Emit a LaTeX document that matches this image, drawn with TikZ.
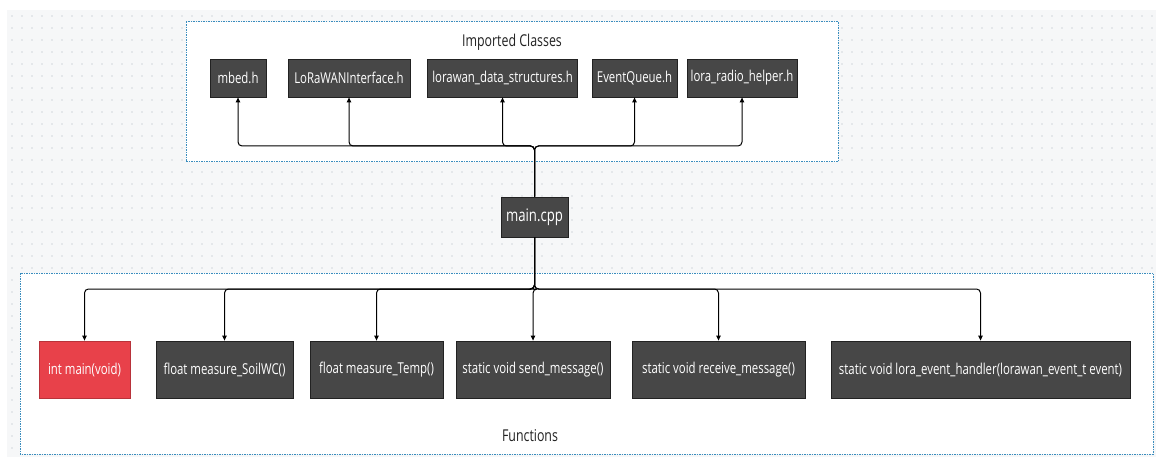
\documentclass[tikz,border=0pt]{standalone}
\usepackage{fontspec}
\setmainfont[FakeStretch=0.76]{Open Sans}
\usetikzlibrary{arrows.meta}
\definecolor{boxgray}{HTML}{474747}
\definecolor{boxline}{HTML}{222222}
\definecolor{redfill}{HTML}{E8414A}
\definecolor{redline}{HTML}{B8323A}
\definecolor{bggray}{HTML}{F6F7F8}
\definecolor{dotc}{HTML}{D2D8DD}
\definecolor{groupline}{HTML}{3A8DBE}
\tikzset{
  darkbox/.style={draw=boxline, fill=boxgray, text=white, line width=0.8pt,
    minimum height=#1, inner sep=0pt, font=\fontsize{15}{17}\selectfont},
  darkbox/.default=38pt,
  redbox/.style={darkbox=57pt, fill=redfill, draw=redline},
  groupbox/.style={draw=groupline, fill=white, line width=1pt, dash pattern=on 1.5pt off 1pt},
  grouplabel/.style={text=boxline, font=\fontsize{16.3}{18}\selectfont},
  conn/.style={draw=black, line width=1pt, rounded corners=4pt,
    -{Triangle[length=5pt,width=4.5pt]}}
}
\begin{document}
\begin{tikzpicture}[x=1pt,y=-1pt]
\useasboundingbox (0,0) rectangle (1156,457);
\fill[white] (0,0) rectangle (1156,457);
\fill[bggray] (7,10) rectangle (1156,457);
\foreach \x in {12,22,...,1152} {\foreach \y in {16,28,...,452} {\fill[dotc] (\x,\y) circle (0.8pt);}}
% groups
\draw[groupbox] (186,22) rectangle (838,162);
\draw[groupbox] (20,273) rectangle (1153,454);
\node[grouplabel] (lblimp) at (512,42) {Imported Classes};
\node[grouplabel] (lblfun) at (530,436) {Functions};
% header nodes
\node[darkbox, minimum width=56pt] (mbed) at (238,78) {mbed.h};
\node[darkbox, minimum width=122pt] (lwi) at (349,78) {LoRaWANInterface.h};
\node[darkbox, minimum width=150pt] (lds) at (502.5,78) {lorawan\_data\_structures.h};
\node[darkbox, minimum width=85pt] (evq) at (634.5,78) {EventQueue.h};
\node[darkbox, minimum width=110pt] (lrh) at (742,78) {lora\_radio\_helper.h};
% main
\node[darkbox=40pt, minimum width=67pt, font=\fontsize{17.3}{19}\selectfont] (main) at (534.5,217) {main.cpp};
% functions
\node[redbox, minimum width=91pt] (f1) at (84.5,369.5) {int main(void)};
\node[darkbox=57pt, minimum width=137pt] (f2) at (224.5,369.5) {float measure\_SoilWC()};
\node[darkbox=57pt, minimum width=133pt] (f3) at (376.5,369.5) {float measure\_Temp()};
\node[darkbox=57pt, minimum width=154pt] (f4) at (533,369.5) {static void send\_message()};
\node[darkbox=57pt, minimum width=173pt] (f5) at (718.5,369.5) {static void receive\_message()};
\node[darkbox=57pt, minimum width=299pt] (f6) at (980.5,369.5) {static void lora\_event\_handler(lorawan\_event\_t event)};
% junctions
\coordinate (tb) at (534.5,146);
\coordinate (bb) at (534.5,289);
% connectors up
\draw[conn] (main.north) -- (tb) -| (mbed.south);
\draw[conn] (main.north) -- (tb) -| (lwi.south);
\draw[conn] (main.north) -- (tb) -| (lds.south);
\draw[conn] (main.north) -- (tb) -| (evq.south);
\draw[conn] (main.north) -- (tb) -| (lrh.south);
% connectors down
\draw[conn] (main.south) -- (bb) -| (f1.north);
\draw[conn] (main.south) -- (bb) -| (f2.north);
\draw[conn] (main.south) -- (bb) -| (f3.north);
\draw[conn] (main.south) -- (bb) -| (f4.north);
\draw[conn] (main.south) -- (bb) -| (f5.north);
\draw[conn] (main.south) -- (bb) -| (f6.north);
\end{tikzpicture}
\end{document}
